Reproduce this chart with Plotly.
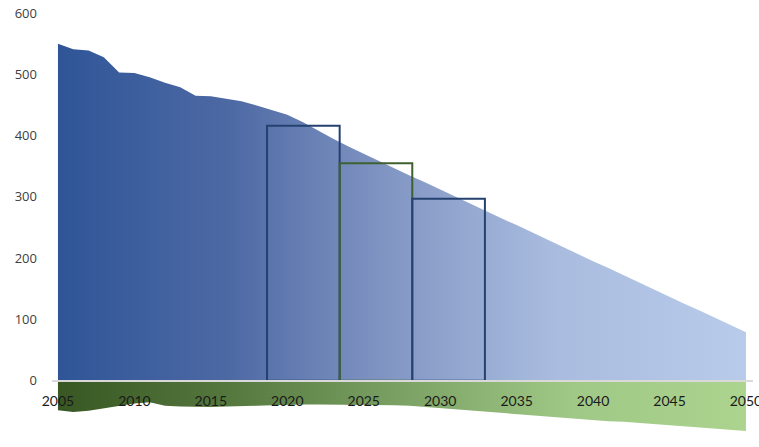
import plotly.graph_objects as go

years = list(range(2005, 2051))
emissions = [550, 541, 539, 528, 503, 502, 495, 486, 479, 465,
             464, 460, 456, 449, 442, 434, 422, 408, 395, 382,
             370, 359, 347, 335, 324, 312, 300, 289, 277, 265,
             254, 242, 230, 219, 207, 195, 184, 172, 160, 149,
             137, 125, 114, 102, 90, 79]
removals = [-48, -51, -49, -45, -41, -37, -35, -41, -42, -43,
            -43, -42, -42, -41, -40, -39, -39, -39, -39, -39,
            -39, -39, -40, -41, -43, -44, -46, -48, -50, -52,
            -54, -56, -58, -60, -62, -64, -66, -67, -69, -71,
            -73, -75, -77, -78, -80, -82]

budget_centers = [2021.05, 2025.8, 2030.55]
budget_widths = [4.75, 4.75, 4.75]
budget_values = [416, 355, 297]
budget_colors = ["#25416F", "#3E6130", "#25416F"]

x_ticks = list(range(2005, 2051, 5))
y_ticks = list(range(-100, 601, 100))

fig = go.Figure()

fig.add_trace(go.Scatter(
    x=years, y=emissions, mode="lines", line=dict(width=0),
    fill="tozeroy",
    fillgradient=dict(type="horizontal",
                      colorscale=[[0, "#2F5597"], [0.25, "#4D69A4"],
                                  [0.47, "#8094C2"], [0.72, "#A9BCDF"],
                                  [1, "#B8CBEA"]]),
    hoverinfo="skip", showlegend=False))

fig.add_trace(go.Scatter(
    x=years, y=removals, mode="lines", line=dict(width=0),
    fill="tozeroy",
    fillgradient=dict(type="horizontal",
                      colorscale=[[0, "#385723"], [0.25, "#55783E"],
                                  [0.5, "#7BA264"], [0.75, "#A0C886"],
                                  [1, "#ACD48F"]]),
    hoverinfo="skip", showlegend=False))

fig.add_trace(go.Bar(
    x=budget_centers, y=budget_values, width=budget_widths,
    marker=dict(color="rgba(0,0,0,0)",
                line=dict(color=budget_colors, width=2)),
    xaxis="x2", yaxis="y", hoverinfo="skip", showlegend=False))

xr = [2004.61, 2050.46]
fig.update_layout(
    width=759, height=447,
    margin=dict(l=52, r=6, t=13, b=5),
    plot_bgcolor="white", paper_bgcolor="white",
    showlegend=False,
    barmode="overlay",
    xaxis=dict(range=xr, tickvals=x_ticks, ticktext=[str(v) for v in x_ticks],
               anchor="free", position=100 / 700,
               showgrid=False, zeroline=False,
               showline=True, linecolor="#D9D9D9", linewidth=1.5,
               layer="above traces", ticks="", ticklabelstandoff=8,
               ticklabeloverflow="allow",
               tickfont=dict(family="Lato", size=14, color="#1a1a1a"),
               automargin=False, fixedrange=True),
    xaxis2=dict(range=xr, overlaying="x", visible=False, matches="x"),
    yaxis=dict(range=[-100, 600], tickvals=y_ticks,
               showgrid=False, zeroline=False, showline=False,
               ticks="", ticklabelstandoff=14,
               tickfont=dict(family="Open Sans", size=13, color="#404040"),
               automargin=False, fixedrange=True),
)

fig.write_html("out.html",
               config={"displayModeBar": False},
               post_script="document.body.style.margin='0';document.body.style.padding='0';")
